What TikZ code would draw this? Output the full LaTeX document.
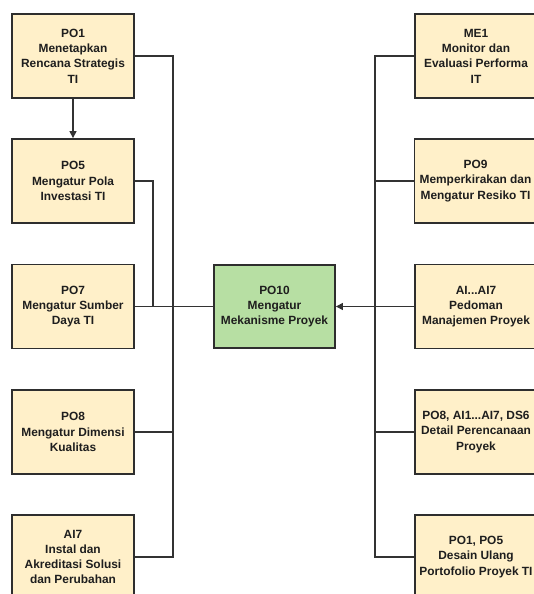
\documentclass[tikz,border=0pt]{standalone}
\usepackage{fontspec}
\setmainfont{Liberation Sans}
\usetikzlibrary{arrows.meta}
\definecolor{boxfill}{HTML}{FFF0C9}
\definecolor{greenfill}{HTML}{B7DFA3}
\definecolor{edge}{HTML}{2E2E2E}
\definecolor{wire}{HTML}{333333}
\definecolor{txt}{HTML}{1E1E1E}
\tikzset{
  ybox/.style={draw=edge, line width=1.8bp, fill=boxfill, minimum width=122bp, minimum height=84bp,
    inner sep=1bp, align=center, text=txt, font=\fontsize{11.9bp}{15.3bp}\selectfont\bfseries},
  gbox/.style={ybox, fill=greenfill, minimum width=121bp, minimum height=83bp},
  wireln/.style={draw=wire, line width=1.2bp},
  arr/.style={wireln, -{Triangle[length=7bp,width=7bp]}}
}
\begin{document}
\begin{tikzpicture}[x=1bp,y=-1bp]
\useasboundingbox (0,0) rectangle (534,594);
\clip (0,0) rectangle (534,594);
% left column
\node[ybox] (po1) at (73,56) {PO1\\Menetapkan\\Rencana Strategis\\TI};
\node[ybox] (po5) at (73,181) {PO5\\Mengatur Pola\\Investasi TI};
\node[ybox] (po7) at (73,306.5) {PO7\\Mengatur Sumber\\Daya TI};
\node[ybox] (po8) at (73,432) {PO8\\Mengatur Dimensi\\Kualitas};
\node[ybox] (ai7) at (73,557) {AI7\\Instal dan\\Akreditasi Solusi\\dan Perubahan};
% center
\node[gbox] (po10) at (274.5,306.5) {PO10\\Mengatur\\Mekanisme Proyek};
% right column
\node[ybox] (me1) at (476,56) {ME1\\Monitor dan\\Evaluasi Performa\\IT};
\node[ybox] (po9) at (475.5,181) {PO9\\Memperkirakan dan\\Mengatur Resiko TI};
\node[ybox] (ai) at (476,306.5) {AI...AI7\\Pedoman\\Manajemen Proyek};
\node[ybox] (det) at (476,432) {PO8, AI1...AI7, DS6\\Detail Perencanaan\\Proyek};
\node[ybox] (port) at (476,557) {PO1, PO5\\Desain Ulang\\Portofolio Proyek TI};
% bus coordinates
\coordinate (lx) at (173,0);
\coordinate (mx) at (153,0);
\coordinate (rx) at (375,0);
% left connectors
\draw[arr] (po1) -- (po5);
\draw[wireln] (po1.east) -| (lx |- ai7.east) -- (ai7.east);
\draw[wireln] (po8.east) -- (lx |- po8.east);
\draw[wireln] (po5.east) -| (mx |- po7.east);
\draw[wireln] (po7.east) -- (po10.west);
% right connectors
\draw[wireln] (me1.west) -| (rx |- port.west) -- (port.west);
\draw[wireln] (po9.west) -- (rx |- po9.west);
\draw[wireln] (det.west) -- (rx |- det.west);
\draw[arr] (ai.west) -- (po10.east);
\end{tikzpicture}
\end{document}
